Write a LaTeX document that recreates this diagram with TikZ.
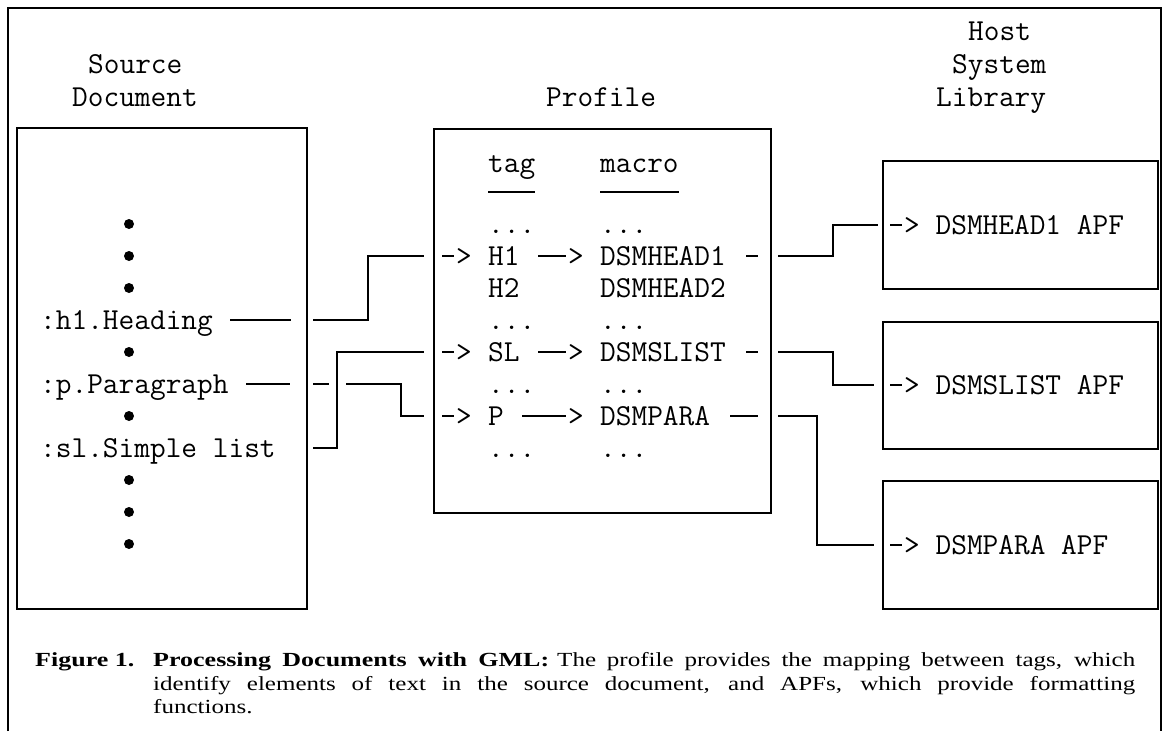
\documentclass[tikz,border=0pt]{standalone}
\usepackage{fontspec}
\newfontfamily\capfont[FakeStretch=1.25]{Liberation Serif}
\newfontfamily\capbold[FakeStretch=1.3]{Liberation Serif Bold}
\newcommand\tdash[1]{\makebox[\dimexpr0.525em*#1\relax]{\rule[0.27em]{\dimexpr0.525em*#1-0.12em\relax}{0.055em}}}
\begin{document}
\begin{tikzpicture}[x=1pt,y=-1pt,
  frame/.style={line width=1.8pt},
  boxst/.style={draw, line width=1.8pt, inner sep=0pt, anchor=north west},
  mono/.style={font=\fontsize{30.48}{32}\selectfont\ttfamily, inner sep=0pt, anchor=base west},
  conn/.style={line width=1.8pt},
  bul/.style={circle, fill, inner sep=0pt, minimum size=10pt},
  captext/.style={font=\fontsize{20}{23}\selectfont\capfont, inner sep=0pt, anchor=base west}]

\useasboundingbox (0,0) rectangle (1164,731);

% outer frame (open at the bottom)
\draw[frame] (8,731) -- (8,8) -- (1161,8) -- (1161,731);

% boxes
\node[boxst, minimum width=290pt, minimum height=481pt] (src) at (16,127) {};
\node[boxst, minimum width=337pt, minimum height=384pt] (prof) at (433,128) {};
\node[boxst, minimum width=275pt, minimum height=128pt] (lib1) at (882,160) {};
\node[boxst, minimum width=275pt, minimum height=127pt] (lib2) at (882,321) {};
\node[boxst, minimum width=275pt, minimum height=128pt] (lib3) at (882,480) {};

% headers
\node[mono] (hsrc1) at (88,73) {Source};
\node[mono] (hsrc2) at (72,106) {Document};
\node[mono] (hprof) at (546,106) {Profile};
\node[mono] (hlib1) at (968,40) {Host};
\node[mono] (hlib2) at (952,73) {System};
\node[mono] (hlib3) at (936,106) {Library};

% source document
\node[bul] (b1) at (129,224) {};
\node[bul] (b2) at (129,256) {};
\node[bul] (b3) at (129,288) {};
\node[bul] (b4) at (129,352) {};
\node[bul] (b5) at (129,416) {};
\node[bul] (b6) at (129,480) {};
\node[bul] (b7) at (129,512) {};
\node[bul] (b8) at (129,544) {};
\node[mono] (sh) at (40,329) {:h1.Heading \tdash{4}};
\node[mono] (sp) at (40,393) {:p.Paragraph \tdash{3}};
\node[mono] (ss) at (40,457) {:sl.Simple list};

% profile
\node[mono] (tagh) at (488,172) {tag};
\node[mono] (mach) at (600,172) {macro};
\draw[conn] ([yshift=-20pt]tagh.base west) -- ([yshift=-20pt]tagh.base east);
\draw[conn] ([yshift=-20pt]mach.base west) -- ([yshift=-20pt]mach.base east);

\node[mono] (td1) at (488,233) {...};
\node[mono] (md1) at (600,233) {...};

\node[mono] (ia1) at (440,265) {\tdash{1}>};
\node[mono] (th1) at (488,265) {H1};
\node[mono] (ra1) at (536,265) {\tdash{2}>};
\node[mono] (mh1) at (600,265) {DSMHEAD1};
\node[mono] (oa1) at (744,265) {\tdash{1}};

\node[mono] (th2) at (488,297) {H2};
\node[mono] (mh2) at (600,297) {DSMHEAD2};

\node[mono] (td2) at (488,329) {...};
\node[mono] (md2) at (600,329) {...};

\node[mono] (ia2) at (440,361) {\tdash{1}>};
\node[mono] (tsl) at (488,361) {SL};
\node[mono] (ra2) at (536,361) {\tdash{2}>};
\node[mono] (msl) at (600,361) {DSMSLIST};
\node[mono] (oa2) at (744,361) {\tdash{1}};

\node[mono] (td3) at (488,393) {...};
\node[mono] (md3) at (600,393) {...};

\node[mono] (ia3) at (440,425) {\tdash{1}>};
\node[mono] (tp) at (488,425) {P};
\node[mono] (ra3) at (520,425) {\tdash{3}>};
\node[mono] (mp) at (600,425) {DSMPARA};
\node[mono] (oa3) at (728,425) {\tdash{2}};

\node[mono] (td4) at (488,457) {...};
\node[mono] (md4) at (600,457) {...};

% host system library
\node[mono] (l1) at (888,234) {\tdash{1}> DSMHEAD1 APF};
\node[mono] (l2) at (888,394) {\tdash{1}> DSMSLIST APF};
\node[mono] (l3) at (888,554) {\tdash{1}> DSMPARA APF};

% connectors source -> profile
\coordinate (hA) at (313,320); \coordinate (hM) at (368,288); \coordinate (hB) at (424,256);
\draw[conn] (hA) -| (hM) |- (hB);
\coordinate (sA) at (313,448); \coordinate (sM) at (337,400); \coordinate (sB) at (424,352);
\draw[conn] (sA) -| (sM) |- (sB);
\coordinate (pA) at (313,384); \coordinate (pG1) at (329,384); \coordinate (pG2) at (346,384);
\coordinate (pM) at (401,400); \coordinate (pB) at (424,416);
\draw[conn] (pA) -- (pG1);
\draw[conn] (pG2) -| (pM) |- (pB);

% connectors profile -> library
\coordinate (oA1) at (778,256); \coordinate (oM1) at (833,240); \coordinate (oB1) at (878,225);
\draw[conn] (oA1) -| (oM1) |- (oB1);
\coordinate (oA2) at (778,352); \coordinate (oM2) at (833,368); \coordinate (oB2) at (874,385);
\draw[conn] (oA2) -| (oM2) |- (oB2);
\coordinate (oA3) at (778,416); \coordinate (oM3) at (817,480); \coordinate (oB3) at (874,545);
\draw[conn] (oA3) -| (oM3) |- (oB3);

% caption
\node[captext] (fig) at (35,666) {\capbold Figure 1.};
\node[captext] (c1) at (153,666) {\makebox[982pt][s]{\capbold Processing Documents with GML:\hspace{0.4em}\capfont The profile provides the mapping between tags, which}};
\node[captext] (c2) at (153,690) {\makebox[982pt][s]{identify elements of text in the source document, and APFs, which provide formatting}};
\node[captext] (c3) at (153,713) {functions.};
\end{tikzpicture}
\end{document}
